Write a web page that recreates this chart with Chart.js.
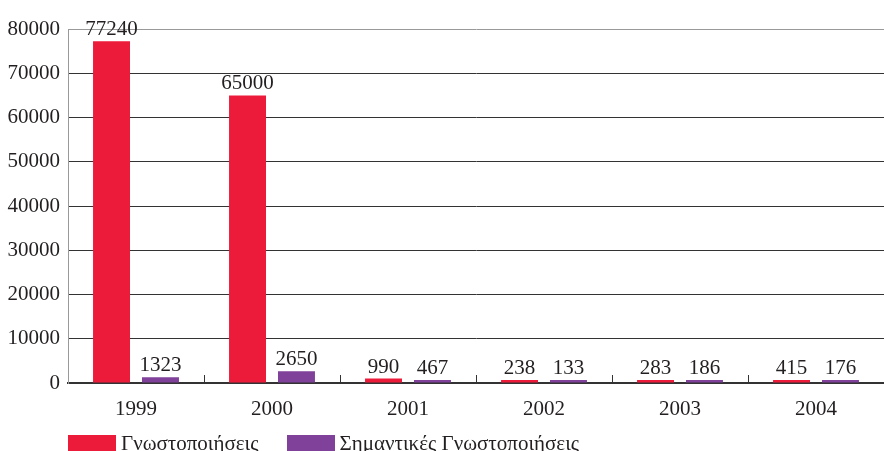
<html>
<head>
<script src="https://cdn.jsdelivr.net/npm/chart.js@4.4.1/dist/chart.umd.min.js"></script>
<style>
body { margin: 0; background: #fff; }
#wrap { position: relative; width: 884px; height: 451px; }
#legend { position: absolute; left: 68px; top: 431px; font: 21px "Liberation Serif", serif; color: #231f20; white-space: nowrap; }
#legend span.box { display: inline-block; width: 48px; height: 16px; vertical-align: -1px; margin-right: 5px; }
#legend span.item { display: inline-block; margin-right: 28px; }
</style>
</head>
<body>
<div id="wrap">
<canvas id="myChart" width="884" height="451"></canvas>
<div id="legend"></div>
</div>
<script>
var years = ['1999', '2000', '2001', '2002', '2003', '2004'];
var notices = [77240, 65000, 990, 238, 283, 415];
var majorNotices = [1323, 2650, 467, 133, 186, 176];
var seriesNames = ['Γνωστοποιήσεις', 'Σημαντικές Γνωστοποιήσεις'];
var seriesColors = ['#ed1b3a', '#7f4199'];

var serif = '"Liberation Serif", "DejaVu Serif", serif';
var ink = '#231f20';

// numbers above each bar
var valueLabels = {
  id: 'valueLabels',
  afterDatasetsDraw: function(chart) {
    var ctx = chart.ctx;
    ctx.save();
    ctx.font = '21px ' + serif;
    ctx.fillStyle = ink;
    ctx.textAlign = 'center';
    ctx.textBaseline = 'alphabetic';
    chart.data.datasets.forEach(function(ds, di) {
      chart.getDatasetMeta(di).data.forEach(function(bar, i) {
        ctx.fillText(ds.data[i], bar.x, bar.y - 6);
      });
    });
    ctx.restore();
  }
};

// small ticks between categories, pointing up from the base line
var catTicks = {
  id: 'catTicks',
  afterDraw: function(chart) {
    var ctx = chart.ctx, xs = chart.scales.x, bottom = chart.chartArea.bottom;
    ctx.save();
    ctx.strokeStyle = '#333';
    ctx.lineWidth = 1;
    for (var i = 0; i < years.length - 1; i++) {
      var x = Math.round((xs.getPixelForValue(i) + xs.getPixelForValue(i + 1)) / 2) + 0.5;
      ctx.beginPath();
      ctx.moveTo(x, bottom - 8);
      ctx.lineTo(x, bottom);
      ctx.stroke();
    }
    ctx.restore();
  }
};

var ctx = document.getElementById('myChart').getContext('2d');
var myChart = new Chart(ctx, {
  type: 'bar',
  data: {
    labels: years,
    datasets: [
      { label: seriesNames[0], data: notices, backgroundColor: seriesColors[0] },
      { label: seriesNames[1], data: majorNotices, backgroundColor: seriesColors[1] }
    ]
  },
  options: {
    responsive: false,
    animation: false,
    categoryPercentage: 0.72,
    barPercentage: 0.755,
    minBarLength: 3,
    layout: { padding: { top: 29, right: 0, bottom: 0, left: 0 } },
    plugins: {
      legend: { display: false },
      tooltip: { enabled: false }
    },
    scales: {
      x: {
        afterFit: function(scale) { scale.height = 68; },
        grid: { display: false, drawTicks: false },
        border: { display: true, color: '#333', width: 2 },
        ticks: { color: ink, font: { family: serif, size: 21 }, padding: 14 }
      },
      y: {
        min: 0,
        max: 80000,
        afterFit: function(scale) { scale.width = 68; },
        ticks: {
          stepSize: 10000, color: ink, font: { family: serif, size: 21 }, padding: 8,
          callback: function(v) { return String(v); }
        },
        grid: {
          drawTicks: false,
          color: function(c) { return c.tick && c.tick.value === 80000 ? '#999' : '#333'; },
          lineWidth: 1
        },
        border: { display: true, color: '#999', width: 1 }
      }
    }
  },
  plugins: [valueLabels, catTicks]
});

var leg = document.getElementById('legend');
seriesNames.forEach(function(name, i) {
  leg.innerHTML += '<span class="item"><span class="box" style="background:' + seriesColors[i] + '"></span>' + name + '</span>';
});
</script>
</body>
</html>
